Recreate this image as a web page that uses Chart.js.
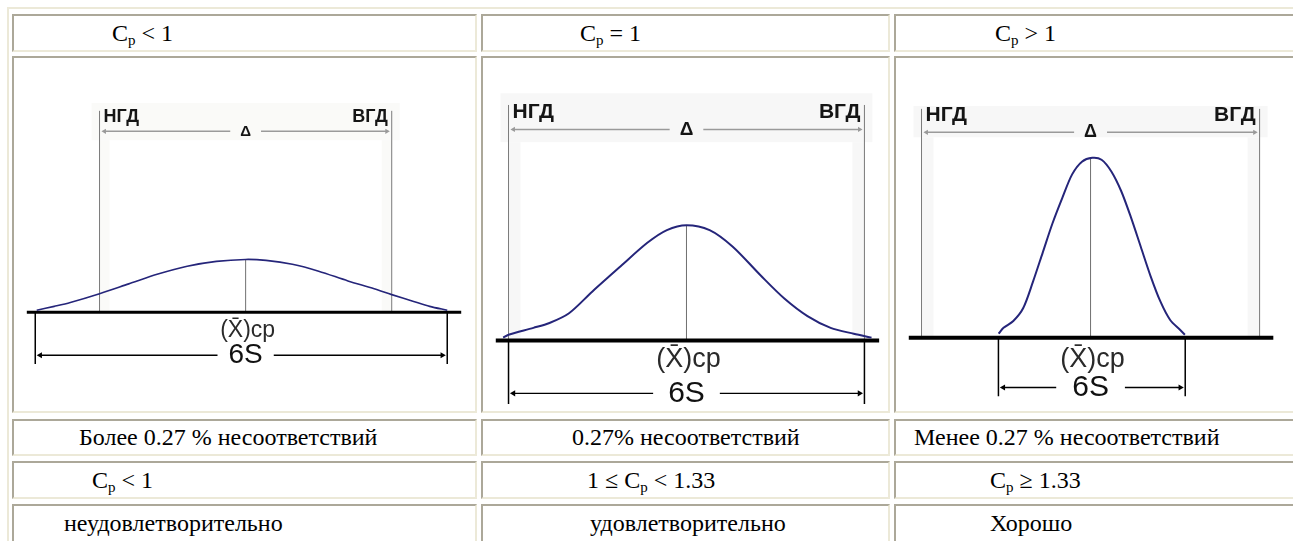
<!DOCTYPE html>
<html lang="ru">
<head>
<meta charset="utf-8">
<title>Индекс воспроизводимости Cp</title>
<script src="https://cdn.jsdelivr.net/npm/chart.js@4.4.1/dist/chart.umd.min.js"></script>
<style>
  html, body { margin: 0; padding: 0; background: #fff; }
  body { position: relative; width: 1293px; height: 541px; overflow: hidden;
         font-family: "Liberation Serif", "Times New Roman", serif; color: #000; }
  .frame { position: absolute; left: 7px; top: 7px; width: 1400px; height: 600px;
           border-top: 2px solid #ece9d8; border-left: 2px solid #ece9d8; }
  .cell { position: absolute; box-sizing: border-box; border: 2px solid;
          border-color: #aca899 #ece9d8 #ece9d8 #aca899; background: #fff;
          font-size: 24px; white-space: nowrap; }
  .cell .txt { position: absolute; top: 0; }
  .cell sub { font-size: 15px; vertical-align: -4px; line-height: 0; }
  canvas { position: absolute; }
</style>
</head>
<body>
<div class="frame"></div>
<script>
// table texts
const headRow = ['C<sub>p</sub> &lt; 1', 'C<sub>p</sub> = 1', 'C<sub>p</sub> &gt; 1'];
const shareRow = ['Более 0.27 % несоответствий', '0.27% несоответствий', 'Менее 0.27 % несоответствий'];
const rangeRow = ['C<sub>p</sub> &lt; 1', '1 &le; C<sub>p</sub> &lt; 1.33', 'C<sub>p</sub> &ge; 1.33'];
const verdictRow = ['неудовлетворительно', 'удовлетворительно', 'Хорошо'];

// diagram labels
const lowLabel = 'НГД', highLabel = 'ВГД', tolLabel = 'Δ', meanLabel = '(X̄)ср', spreadLabel = '6S';

// tolerance limits (x in tolerance units: НГД = -1, ВГД = +1)
const tolerance = [-1, 1];

// curves: x in tolerance units, y = height of the curve
const curve1X = [-1.43, -1.31, -1.2, -1.0, -0.8, -0.6, -0.4, -0.2, 0, 0.14, 0.32, 0.5, 0.7, 0.88, 1.0, 1.15, 1.26, 1.38];
const curve1Y = [2, 6, 10, 19, 29, 39, 47, 52, 54, 53, 49, 42, 32, 24, 18, 11, 6, 2];
const curve2X = [-1.03, -1.0, -0.86, -0.77, -0.66, -0.53, -0.37, -0.22, -0.11, 0, 0.13, 0.26, 0.42, 0.55, 0.68, 0.81, 0.94, 1.04];
const curve2Y = [3, 6, 13, 18, 28, 50, 76, 100, 113, 118, 113, 96, 66, 43, 25, 13, 7, 3];
const curve3X = [-0.544, -0.515, -0.457, -0.399, -0.341, -0.283, -0.225, -0.167, -0.109, -0.051, 0.01, 0.065, 0.123, 0.181, 0.239, 0.297, 0.355, 0.413, 0.471, 0.529, 0.558];
const curve3Y = [4, 10, 17, 30, 57, 87, 117, 143, 167, 180, 184, 182, 170, 150, 123, 93, 63, 37, 18, 8, 3];

// 6S spread of each process
const spread1 = [-1.44, 1.38];
const spread2 = [-1.0, 1.0];
const spread3 = [-0.545, 0.56];

// table geometry
const cols = [{ left: 12, width: 465 }, { left: 481, width: 409 }, { left: 894, width: 420 }];
const rows = [{ top: 14, height: 38 }, { top: 56, height: 357 }, { top: 419, height: 37 },
              { top: 461, height: 38 }, { top: 504, height: 60 }];
const textRows = [
  { row: 0, texts: headRow, pad: [100, 99, 101] },
  { row: 2, texts: shareRow, pad: [67, 91, 20] },
  { row: 3, texts: rangeRow, pad: [80, 106, 96] },
  { row: 4, texts: verdictRow, pad: [52, 109, 96] }
];

rows.forEach((r, ri) => {
  cols.forEach((c, ci) => {
    const d = document.createElement('div');
    d.className = 'cell';
    Object.assign(d.style, { left: c.left + 'px', top: r.top + 'px', width: c.width + 'px', height: r.height + 'px' });
    const tr = textRows.find(t => t.row === ri);
    if (tr) {
      const s = document.createElement('span');
      s.className = 'txt';
      s.style.left = (tr.pad[ci] - 2) + 'px';
      s.style.lineHeight = (Math.min(r.height, 38) - 4) + 'px';
      s.innerHTML = tr.texts[ci];
      d.appendChild(s);
    }
    document.body.appendChild(d);
  });
});

// per picture layout (page pixels for anchors, y offsets in curve units)
const pics = [
  { xs: curve1X, ys: curve1Y, spread: spread1, low: 97, high: 394.3, base: 314, axis: [23, 465],
    limTop: 206, labY: 200, dimY: 185, meanY: -19, sixY: -44, tickY: -53,
    fLab: 18, fTol: 15, fMean: 23, fSix: 28, curveW: 1.6, baseW: 3, sixPad: 11,
    shade: [214, 176], strip: 10, shadeColor: '#fafaf8' },
  { xs: curve2X, ys: curve2Y, spread: spread2, low: 505, high: 868, base: 343, axis: [492, 883],
    limTop: 241, labY: 234, dimY: 216, meanY: -19, sixY: -54, tickY: -65,
    fLab: 21, fTol: 19, fMean: 27, fSix: 30, curveW: 2, baseW: 4, sixPad: 15,
    shade: [253, 203], strip: 12, shadeColor: '#f7f7f7' },
  { xs: curve3X, ys: curve3Y, spread: spread3, low: 918, high: 1263, base: 340, axis: [905, 1277],
    limTop: 234, labY: 228, dimY: 210, meanY: -22, sixY: -51, tickY: -60,
    fLab: 21, fTol: 18, fMean: 27, fSix: 30, curveW: 2, baseW: 4, sixPad: 16,
    shade: [237, 205], strip: 12, shadeColor: '#f7f7f7' }
];

const sans = '"Liberation Sans", Arial, sans-serif';

// faint background of the scanned drawings, between the tolerance lines
const shadePlugin = {
  id: 'diagramShade',
  beforeDatasetsDraw(chart, args, p) {
    const ctx = chart.ctx, sx = chart.scales.x, sy = chart.scales.y;
    const l = sx.getPixelForValue(tolerance[0]), r = sx.getPixelForValue(tolerance[1]);
    const t = sy.getPixelForValue(p.shade[0]), b = sy.getPixelForValue(p.shade[1]);
    const base = sy.getPixelForValue(0);
    ctx.save();
    ctx.fillStyle = p.shadeColor;
    ctx.fillRect(l - 8, t, r - l + 16, b - t);
    ctx.fillRect(l, b, p.strip, base - b);
    ctx.fillRect(r - p.strip, b, p.strip, base - b);
    ctx.restore();
  }
};

// text of the drawings, placed through the chart scales
const labelsPlugin = {
  id: 'diagramLabels',
  afterDatasetsDraw(chart, args, p) {
    const ctx = chart.ctx, sx = chart.scales.x, sy = chart.scales.y;
    ctx.save();
    ctx.textBaseline = 'middle';
    ctx.fillStyle = '#151515';
    ctx.font = 'bold ' + p.fLab + 'px ' + sans;
    ctx.textAlign = 'left';
    ctx.fillText(lowLabel, sx.getPixelForValue(tolerance[0]) + 4, sy.getPixelForValue(p.labY));
    ctx.textAlign = 'right';
    ctx.fillText(highLabel, sx.getPixelForValue(tolerance[1]) - 4, sy.getPixelForValue(p.labY));

    const boxed = (text, font, yv, pad, color, bg) => {
      ctx.font = font;
      const w = ctx.measureText(text).width;
      const cx = sx.getPixelForValue(0), cy = sy.getPixelForValue(yv);
      ctx.fillStyle = bg;
      ctx.fillRect(cx - w / 2 - pad, cy - 4, w + 2 * pad, 8);
      ctx.fillStyle = color;
      ctx.textAlign = 'center';
      ctx.fillText(text, cx, cy);
    };
    boxed(tolLabel, 'bold ' + p.fTol + 'px ' + sans, p.dimY, 10, '#151515', p.shadeColor);
    boxed(spreadLabel, p.fSix + 'px ' + sans, p.sixY, p.sixPad, '#111', '#fff');

    ctx.font = p.fMean + 'px ' + sans;
    ctx.fillStyle = '#2a2a2a';
    ctx.textAlign = 'center';
    ctx.fillText(meanLabel, sx.getPixelForValue(0) + 2, sy.getPixelForValue(p.meanY));
    ctx.restore();
  }
};

pics.forEach((p, i) => {
  const col = cols[i], row = rows[1];
  const c = (p.low + p.high) / 2, u = (p.high - p.low) / 2;
  const toX = px => (px - c) / u;
  const w = Math.min(col.width, 1293 - col.left);
  const canvas = document.createElement('canvas');
  canvas.width = w;
  canvas.height = row.height;
  canvas.style.left = col.left + 'px';
  canvas.style.top = row.top + 'px';
  document.body.appendChild(canvas);

  const peak = Math.max(...p.ys);
  const gap = 5 / u;
  const line = (pts, color, width, extra) => Object.assign({
    data: pts, showLine: true, borderColor: color, backgroundColor: color,
    borderWidth: width, pointRadius: 0, borderCapStyle: 'butt'
  }, extra || {});

  const datasets = [
    line(p.xs.map((x, k) => ({ x, y: p.ys[k] })), '#25257a', p.curveW, { tension: 0.3 }),
    line([{ x: toX(p.axis[0]), y: 0 }, { x: toX(p.axis[1]), y: 0 }], '#000', p.baseW),
    line([{ x: tolerance[0], y: 0 }, { x: tolerance[0], y: p.limTop }], '#7a7a7a', 1),
    line([{ x: tolerance[1], y: 0 }, { x: tolerance[1], y: p.limTop }], '#7a7a7a', 1),
    line([{ x: 0, y: 0 }, { x: 0, y: peak }], '#707070', 1),
    line([{ x: tolerance[0] + gap, y: p.dimY }, { x: tolerance[1] - gap, y: p.dimY }], '#9a9a9a', 1.5,
      { pointStyle: 'triangle', pointRadius: 3, pointBorderWidth: 0, pointRotation: [-90, 90] }),
    line([{ x: p.spread[0], y: 0 }, { x: p.spread[0], y: p.tickY }], '#000', 1.5),
    line([{ x: p.spread[1], y: 0 }, { x: p.spread[1], y: p.tickY }], '#000', 1.5),
    line([{ x: p.spread[0] + gap, y: p.sixY }, { x: p.spread[1] - gap, y: p.sixY }], '#000', 1.3,
      { pointStyle: 'triangle', pointRadius: 3.5, pointBorderWidth: 0, pointRotation: [-90, 90] })
  ];

  new Chart(canvas, {
    type: 'scatter',
    data: { datasets },
    options: {
      responsive: false,
      animation: false,
      events: [],
      layout: { padding: 0 },
      plugins: { legend: { display: false }, tooltip: { enabled: false }, diagramLabels: p, diagramShade: p },
      scales: {
        x: { type: 'linear', display: false, bounds: 'data', min: toX(col.left), max: toX(col.left + w) },
        y: { type: 'linear', display: false, bounds: 'data', min: p.base - (row.top + row.height), max: p.base - row.top }
      }
    },
    plugins: [shadePlugin, labelsPlugin]
  });
});
</script>
</body>
</html>
